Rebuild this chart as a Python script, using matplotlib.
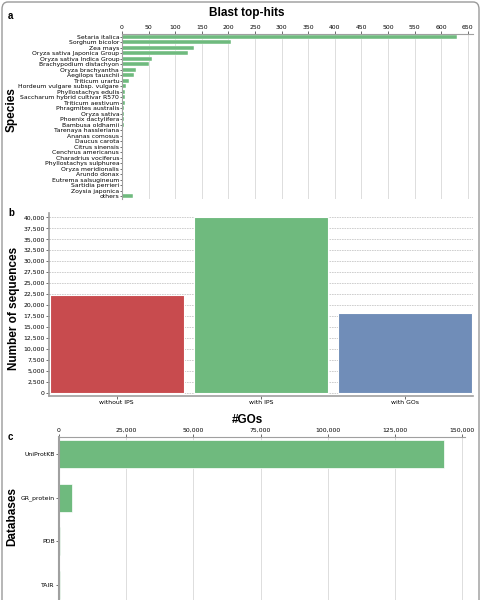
import matplotlib
matplotlib.use("Agg")
import matplotlib.pyplot as plt
from matplotlib.patches import FancyBboxPatch
from matplotlib.ticker import FuncFormatter

# panel a: blast top-hits per species
species = [
    "Setaria italica", "Sorghum bicolor", "Zea mays", "Oryza sativa Japonica Group",
    "Oryza sativa Indica Group", "Brachypodium distachyon", "Oryza brachyantha",
    "Aegilops tauschii", "Triticum urartu", "Hordeum vulgare subsp. vulgare",
    "Phyllostachys edulis", "Saccharum hybrid cultivar R570", "Triticum aestivum",
    "Phragmites australis", "Oryza sativa", "Phoenix dactylifera", "Bambusa oldhamii",
    "Tarenaya hassleriana", "Ananas comosus", "Daucus carota", "Citrus sinensis",
    "Cenchrus americanus", "Charadrius vociferus", "Phyllostachys sulphurea",
    "Oryza meridionalis", "Arundo donax", "Eutrema salsugineum", "Sartidia perrieri",
    "Zoysia japonica", "others",
]
hits = [629, 205, 136, 124, 57, 50, 26, 22, 13, 8, 6, 5, 5, 4, 3, 3, 3, 2.5, 2, 2, 2,
        1.5, 1.5, 1.5, 1, 1, 1, 1, 1, 20]

# panel b: sequences
seq_cats = ["without IPS", "with IPS", "with GOs"]
seq_counts = [22350, 40100, 18200]

# panel c: GOs per database
databases = ["UniProtKB", "GR_protein", "PDB", "TAIR"]
go_counts = [143100, 5000, 500, 300]

green = "#6fba7e"
red = "#c84b4e"
blue = "#708db8"
spine_col = "#a0a0a0"
grid_col = "#dddddd"
W, H = 483, 600

fig = plt.figure(figsize=(W / 100, H / 100), dpi=100)
fig.patch.set_facecolor("white")


def box(l, t, r, b):
    # pixel box -> figure rect
    return [l / W, 1 - b / H, (r - l) / W, (b - t) / H]


def style(ax):
    for s in ax.spines.values():
        s.set_visible(False)
    ax.tick_params(labelsize=4.4, length=2, width=0.6, color="#555555", pad=1)


title_font = dict(family="Liberation Sans", fontweight="bold", fontsize=8.5)
panel_font = dict(family="Liberation Sans", fontweight="bold", fontsize=7)
thousands = FuncFormatter(lambda v, p: f"{int(v):,}")

# --- a ---
ax1 = fig.add_axes(box(122, 34, 473, 199))
style(ax1)
ax1.barh(range(len(species)), hits, height=0.8, color=green, edgecolor="white", linewidth=0.3)
ax1.set_ylim(len(species) - 0.5, -0.5)
ax1.set_xlim(0, 660)
ax1.set_yticks(range(len(species)))
ax1.set_yticklabels(species)
ax1.set_xticks(range(0, 651, 50))
ax1.xaxis.tick_top()
ax1.grid(axis="x", color=grid_col, linewidth=0.7)
ax1.set_axisbelow(True)
ax1.spines["top"].set_visible(True)
ax1.spines["top"].set_color(spine_col)
ax1.spines["left"].set_visible(True)
ax1.spines["left"].set_color(spine_col)
ax1.tick_params(axis="y", labelsize=4.4, pad=0.5, length=1.5)
fig.text(247 / W, 1 - 13 / H, "Blast top-hits", ha="center", va="center", **title_font)
fig.text(12 / W, 1 - 110 / H, "Species", rotation=90, ha="center", va="center", **title_font)
fig.text(8 / W, 1 - 16 / H, "a", ha="left", va="center", **panel_font)

# --- b ---
ax2 = fig.add_axes(box(49, 213, 473, 396))
style(ax2)
ax2.bar(range(3), seq_counts, width=0.93, color=[red, green, blue], edgecolor="white", linewidth=0.8)
ax2.set_xlim(-0.47, 2.47)
ax2.set_ylim(-750, 41000)
ax2.set_yticks(range(0, 40001, 2500))
ax2.yaxis.set_major_formatter(thousands)
ax2.set_xticks(range(3))
ax2.set_xticklabels(seq_cats)
ax2.grid(axis="y", color="#c8c8c8", linewidth=0.6, linestyle=(0, (2, 1)))
ax2.set_axisbelow(True)
for s in ("left", "bottom"):
    ax2.spines[s].set_visible(True)
    ax2.spines[s].set_color(spine_col)
    ax2.spines[s].set_linewidth(1.2)
fig.text(14 / W, 1 - 308 / H, "Number of sequences", rotation=90, ha="center", va="center", **title_font)
fig.text(8 / W, 1 - 213 / H, "b", ha="left", va="center", **panel_font)

# --- c ---
ax3 = fig.add_axes(box(59, 437, 465, 602))
style(ax3)
ax3.barh(range(4), go_counts, height=0.64, color=green, edgecolor="white", linewidth=0.5)
ax3.set_ylim(3.39, -0.39)
ax3.set_xlim(0, 151000)
ax3.set_xticks(range(0, 150001, 25000))
ax3.xaxis.set_major_formatter(thousands)
ax3.xaxis.tick_top()
ax3.set_yticks(range(4))
ax3.set_yticklabels(databases)
ax3.grid(axis="x", color=grid_col, linewidth=0.7)
ax3.set_axisbelow(True)
ax3.spines["top"].set_visible(True)
ax3.spines["top"].set_color(spine_col)
ax3.spines["left"].set_visible(True)
ax3.spines["left"].set_color(spine_col)
ax3.spines["left"].set_linewidth(1.5)
fig.text(247 / W, 1 - 420 / H, "#GOs", ha="center", va="center", **title_font)
fig.text(12 / W, 1 - 516 / H, "Databases", rotation=90, ha="center", va="center", **title_font)
fig.text(8 / W, 1 - 437 / H, "c", ha="left", va="center", **panel_font)

# border round the whole figure
frame = FancyBboxPatch((2 / W, -0.05), 477 / W, 1.05 - 2 / H,
                       boxstyle="round,pad=0,rounding_size=0.012",
                       transform=fig.transFigure, fill=False,
                       edgecolor="#9a9a9a", linewidth=1.0)
fig.patches.append(frame)

fig.savefig("out.png", dpi=100)
